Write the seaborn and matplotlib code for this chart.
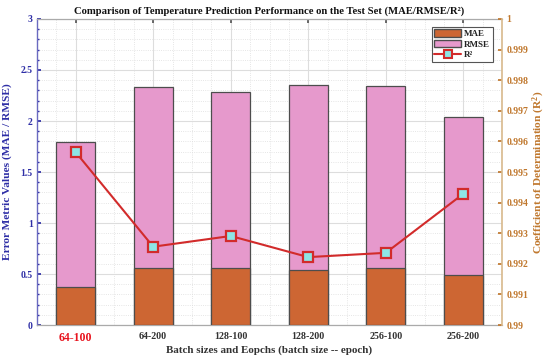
import numpy as np
import pandas as pd
import matplotlib
matplotlib.use("Agg")
import matplotlib.pyplot as plt
from matplotlib.ticker import MultipleLocator
from matplotlib.patches import Patch
from matplotlib.lines import Line2D
import seaborn as sns

categories = ["64-100", "64-200", "128-100", "128-200", "256-100", "256-200"]
rmse = [1.79, 2.33, 2.28, 2.35, 2.34, 2.04]
mae = [0.37, 0.56, 0.555, 0.54, 0.555, 0.49]
r2 = [0.99565, 0.99256, 0.99291, 0.99222, 0.99236, 0.99429]

sns.set_theme(style="white")
plt.rcParams['font.family'] = ['Liberation Serif', 'DejaVu Serif']
plt.rcParams['font.weight'] = 'bold'
plt.rcParams['mathtext.fontset'] = 'custom'
plt.rcParams['mathtext.rm'] = 'Liberation Serif:bold'
plt.rcParams['mathtext.it'] = 'Liberation Serif:bold'

C_MAE = "#CD6633"
C_RMSE = "#E699CC"
C_EDGE = "#4D4D4D"
C_LINE = "#D22B2B"
C_MK = "#8EE5E5"
C_LEFT = "#2E2EA6"
C_RIGHT = "#C0782E"
C_RSPINE = "#D8B98C"

df = pd.DataFrame({"cat": categories, "rmse": rmse, "mae": mae, "r2": r2})

fig = plt.figure(figsize=(5.5, 3.58), dpi=100)
ax = fig.add_axes([0.067, 0.092, 0.846, 0.855])

sns.barplot(data=df, x="cat", y="rmse", color=C_RMSE, width=0.5, ax=ax,
            edgecolor=C_EDGE, linewidth=0.9, saturation=1, zorder=2)
sns.barplot(data=df, x="cat", y="mae", color=C_MAE, width=0.5, ax=ax,
            edgecolor=C_EDGE, linewidth=0.9, saturation=1, zorder=3)

ax.set_ylim(0, 3)
ax.set_xlim(-0.5, 5.5)
ax.yaxis.set_major_locator(MultipleLocator(0.5))
ax.yaxis.set_minor_locator(MultipleLocator(0.1))
ax.xaxis.set_minor_locator(MultipleLocator(0.25))
ax.set_axisbelow(True)
ax.grid(which="major", color="#DDDDDD", linewidth=0.8, linestyle="-")
ax.grid(which="minor", color="#DDDDDD", linewidth=0.6, linestyle=":")
ax.set_yticks([0, 0.5, 1, 1.5, 2, 2.5, 3])
ax.set_yticklabels(["0", "0.5", "1", "1.5", "2", "2.5", "3"])
ax.tick_params(axis="y", colors=C_LEFT, labelsize=7, direction="in", length=3, which="major", left=True, right=False, pad=3)
ax.tick_params(axis="y", which="minor", direction="in", length=1.5, left=True, colors=C_LEFT)
ax.tick_params(axis="x", which="major", direction="in", length=3, bottom=True, top=True, colors="#555555", labelsize=7.2, pad=5)
ax.tick_params(axis="x", which="minor", length=0)
for lab in ax.get_xticklabels():
    lab.set_color("#333333")
    lab.set_fontweight("bold")
first = ax.get_xticklabels()[0]
first.set_color("#E8141E")
first.set_fontsize(8.6)
ax.set_xlabel("Batch sizes and Eopchs (batch size -- epoch)", fontsize=7.9, color="#333333", fontweight="bold", labelpad=1)
ax.set_ylabel("Error Metric Values (MAE / RMSE)", fontsize=8.2, color=C_LEFT, fontweight="bold", labelpad=6)
ax.set_title("Comparison of Temperature Prediction Performance on the Test Set (MAE/RMSE/R\u00b2)",
             fontsize=7.7, fontweight="bold", color="#111111", pad=4)
for s in ["top", "bottom"]:
    ax.spines[s].set_color("#AAAAAA")
    ax.spines[s].set_linewidth(0.9)
ax.spines["left"].set_color("#6A6AC0")
ax.spines["left"].set_linewidth(1.0)
ax.spines["right"].set_visible(False)

ax2 = ax.twinx()
sns.lineplot(x=np.arange(len(categories)), y=df["r2"], ax=ax2, color=C_LINE, linewidth=1.5,
             marker="s", markersize=6.5, markerfacecolor=C_MK, markeredgecolor=C_LINE,
             markeredgewidth=1.6, zorder=5)
ax2.set_ylim(0.99, 1.0)
ax2.set_xlim(-0.5, 5.5)
ax2.set_ylabel("Coefficient of Determination (R$^2$)", fontsize=8.2, color=C_RIGHT, fontweight="bold", labelpad=2)
r_ticks = [0.99 + 0.001 * i for i in range(11)]
ax2.set_yticks(r_ticks)
ax2.set_yticklabels(["0.99", "0.991", "0.992", "0.993", "0.994", "0.995", "0.996", "0.997", "0.998", "0.999", "1"])
ax2.tick_params(axis="y", colors=C_RIGHT, labelsize=7, direction="in", length=3, pad=3)
for lab in ax2.get_yticklabels():
    lab.set_color(C_RIGHT)
for s in ["top", "bottom", "left"]:
    ax2.spines[s].set_visible(False)
ax2.spines["right"].set_color(C_RSPINE)
ax2.spines["right"].set_linewidth(1.2)
ax2.grid(False)

handles = [Patch(facecolor=C_MAE, edgecolor=C_EDGE, label="MAE"),
           Patch(facecolor=C_RMSE, edgecolor=C_EDGE, label="RMSE"),
           Line2D([0], [0], color=C_LINE, lw=1.5, marker="s", markersize=6,
                  markerfacecolor=C_MK, markeredgecolor=C_LINE, markeredgewidth=1.5, label="R\u00b2")]
leg = ax2.legend(handles=handles, loc="upper right", bbox_to_anchor=(0.99, 0.99), fontsize=6.5,
                 frameon=True, fancybox=False, edgecolor="#555555", framealpha=1,
                 handlelength=2.9, handleheight=0.9, borderpad=0.3, labelspacing=0.2, handletextpad=0.4)
leg.get_frame().set_linewidth(0.8)
for t in leg.get_texts():
    t.set_fontweight("bold")
    t.set_color("#222222")

fig.savefig("out.png", dpi=100)
